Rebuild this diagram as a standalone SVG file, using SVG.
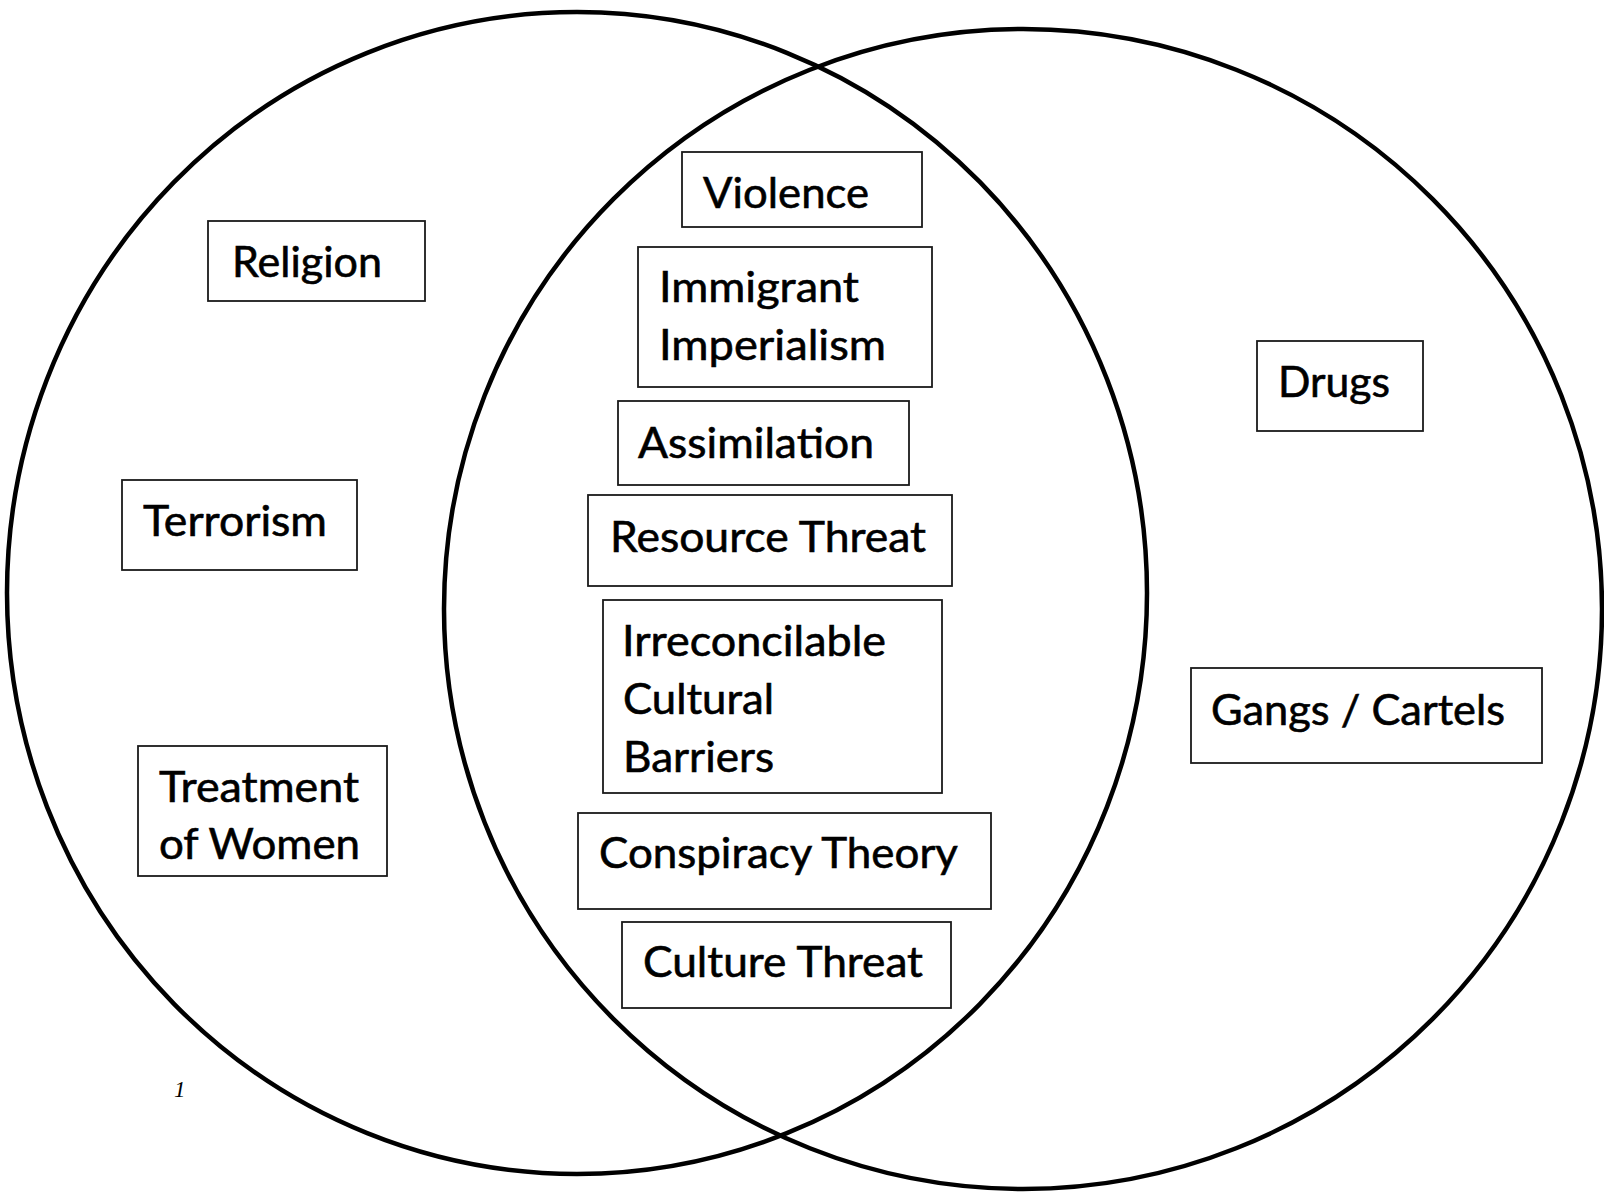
<svg xmlns="http://www.w3.org/2000/svg" width="1604" height="1192" viewBox="0 0 1604 1192">
<style>
.circle{fill:none;stroke:#000;stroke-width:4.5}
.box{fill:#fff;stroke:#1a1a1a;stroke-width:1.8}
.lbl{font-family:Lato,"Open Sans","Liberation Sans",sans-serif;font-size:42px;fill:#000;stroke:#000;stroke-width:0.6}
.note{font-family:"Liberation Serif",serif;font-style:italic;font-size:23px;fill:#000}
</style>
<rect x="0" y="0" width="1604" height="1192" fill="#fff"/>
<g id="sets">
<ellipse id="left-set" class="circle" cx="577" cy="593" rx="570" ry="581"/>
<ellipse id="right-set" class="circle" cx="1023" cy="609" rx="579" ry="580"/>
</g>
<g id="connectors"></g>
<g id="religion"><rect class="box" x="208" y="221" width="217" height="80"/><text class="lbl" x="232" y="277" textLength="150" lengthAdjust="spacingAndGlyphs">Religion</text></g>
<g id="terrorism"><rect class="box" x="122" y="480" width="235" height="90"/><text class="lbl" x="143" y="536" textLength="184" lengthAdjust="spacingAndGlyphs">Terrorism</text></g>
<g id="treatment-of-women"><rect class="box" x="138" y="746" width="249" height="130"/><text class="lbl" x="159" y="802" textLength="200" lengthAdjust="spacingAndGlyphs">Treatment</text><text class="lbl" x="159" y="859" textLength="201" lengthAdjust="spacingAndGlyphs">of Women</text></g>
<g id="violence"><rect class="box" x="682" y="152" width="240" height="75"/><text class="lbl" x="703" y="208" textLength="166" lengthAdjust="spacingAndGlyphs">Violence</text></g>
<g id="immigrant-imperialism"><rect class="box" x="638" y="247" width="294" height="140"/><text class="lbl" x="659" y="302" textLength="200" lengthAdjust="spacingAndGlyphs">Immigrant</text><text class="lbl" x="659" y="360" textLength="227" lengthAdjust="spacingAndGlyphs">Imperialism</text></g>
<g id="assimilation"><rect class="box" x="618" y="401" width="291" height="84"/><text class="lbl" x="638" y="458" textLength="236" lengthAdjust="spacingAndGlyphs">Assimilation</text></g>
<g id="resource-threat"><rect class="box" x="588" y="495" width="364" height="91"/><text class="lbl" x="610" y="552" textLength="316" lengthAdjust="spacingAndGlyphs">Resource Threat</text></g>
<g id="irreconcilable-cultural-barriers"><rect class="box" x="603" y="600" width="339" height="193"/><text class="lbl" x="622" y="656" textLength="264" lengthAdjust="spacingAndGlyphs">Irreconcilable</text><text class="lbl" x="623" y="714" textLength="151" lengthAdjust="spacingAndGlyphs">Cultural</text><text class="lbl" x="623" y="772" textLength="151" lengthAdjust="spacingAndGlyphs">Barriers</text></g>
<g id="conspiracy-theory"><rect class="box" x="578" y="813" width="413" height="96"/><text class="lbl" x="599" y="868" textLength="359" lengthAdjust="spacingAndGlyphs">Conspiracy Theory</text></g>
<g id="culture-threat"><rect class="box" x="622" y="922" width="329" height="86"/><text class="lbl" x="643" y="977" textLength="280" lengthAdjust="spacingAndGlyphs">Culture Threat</text></g>
<g id="drugs"><rect class="box" x="1257" y="341" width="166" height="90"/><text class="lbl" x="1278" y="397" textLength="112" lengthAdjust="spacingAndGlyphs">Drugs</text></g>
<g id="gangs-cartels"><rect class="box" x="1191" y="668" width="351" height="95"/><text class="lbl" x="1211" y="725" textLength="294" lengthAdjust="spacingAndGlyphs">Gangs / Cartels</text></g>
<text class="note" x="174" y="1097">1</text>
</svg>
